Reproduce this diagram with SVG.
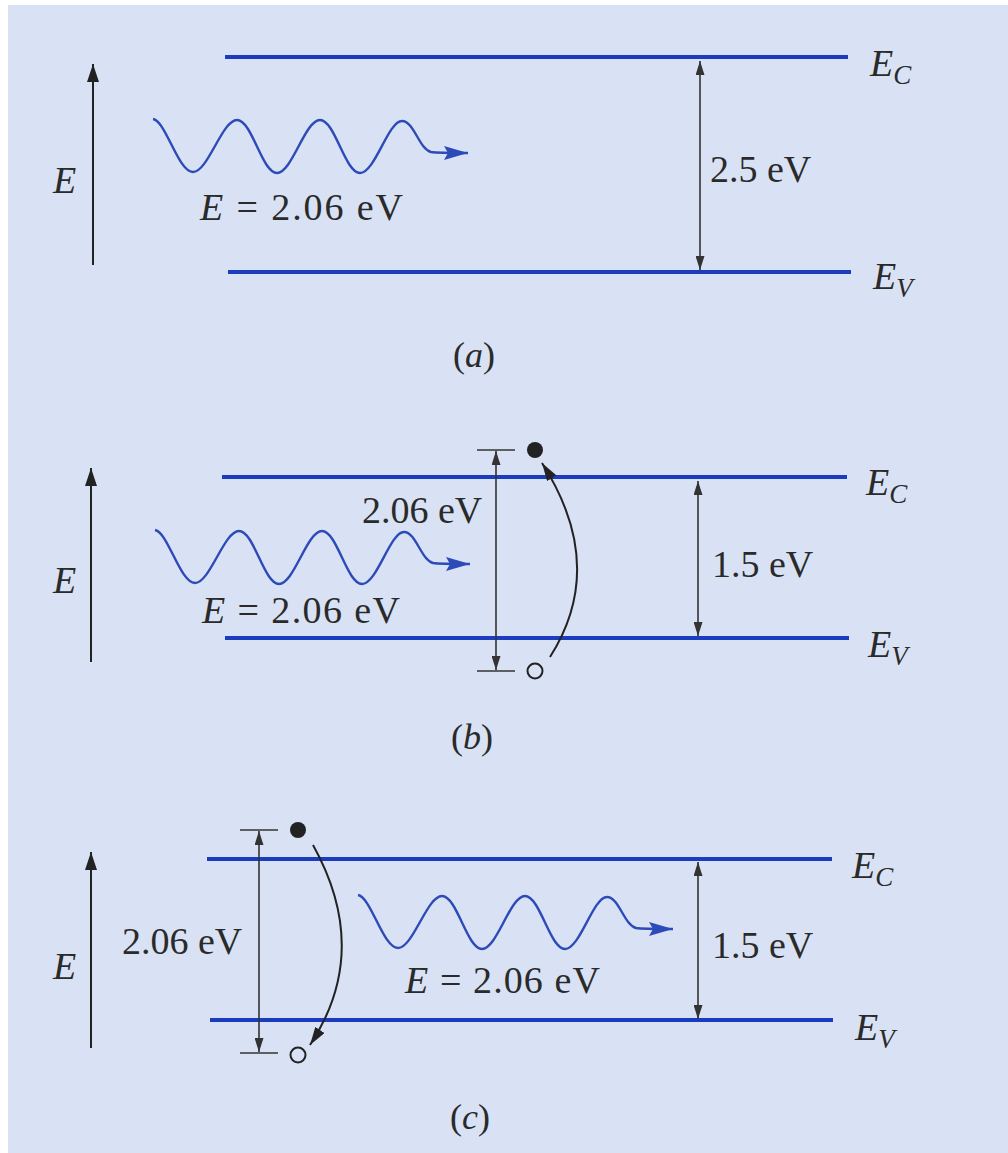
<svg xmlns="http://www.w3.org/2000/svg" xmlns:xlink="http://www.w3.org/1999/xlink" width="1008" height="1153" viewBox="0 0 1008 1153">
<style>
.bg{fill:#d9e2f4}
.band{stroke:#1c3cc0;stroke-width:4;fill:none}
.dim{stroke:#333;stroke-width:1.6;fill:none}
.axis{stroke:#222;stroke-width:2;fill:none}
.wave{stroke:#2d4bb8;stroke-width:2.4;fill:none}
.t{font-family:"Liberation Serif","Times New Roman",serif;font-size:38px;fill:#2a2a2a}
.i{font-style:italic}
.sub{font-size:27px}
.cap{font-size:36px}
</style>
<defs>
<marker id="ah" markerUnits="userSpaceOnUse" markerWidth="14" markerHeight="9" viewBox="0 0 14 9" refX="14" refY="4.5" orient="auto-start-reverse">
<path d="M0,0 L14,4.5 L0,9 z" fill="#333"/>
</marker>
<marker id="axh" markerUnits="userSpaceOnUse" markerWidth="18" markerHeight="12" viewBox="0 0 18 12" refX="18" refY="6" orient="auto">
<path d="M0,0 L18,6 L0,12 z" fill="#222"/>
</marker>
<marker id="ch" markerUnits="userSpaceOnUse" markerWidth="18" markerHeight="11" viewBox="0 0 18 11" refX="18" refY="5.5" orient="auto">
<path d="M0,0 L18,5.5 L0,11 z" fill="#222"/>
</marker>
<marker id="wh" markerUnits="userSpaceOnUse" markerWidth="24" markerHeight="14" viewBox="0 0 24 14" refX="24" refY="7" orient="auto">
<path d="M0,0 L24,7 L0,14 L4,7 z" fill="#2d4bb8"/>
</marker>
<path id="wave" class="wave" marker-end="url(#wh)" d="M0,0 C13,2 25,53 40,53 C55,53 69,1 84,1 C99,1 109,54 124,54 C139,54 152,1 167,1 C182,1 192,54 207,54 C222,54 235,2 249,2 C261,2 266,30 278,33 C284,34 292,34 315,34"/>
</defs>
<rect x="0" y="0" width="1008" height="1153" fill="#ffffff"/>
<rect class="bg" x="8" y="5" width="1000" height="1148"/>

<g id="panel-a">
<line class="band" x1="225" y1="57" x2="848" y2="57"/>
<line class="band" x1="228" y1="272" x2="851" y2="272"/>
<text class="t i" x="870" y="76">E<tspan class="sub" dy="8">C</tspan></text>
<text class="t i" x="873" y="289">E<tspan class="sub" dy="8">V</tspan></text>
<text class="t i" x="53" y="193">E</text>
<text class="t" x="200" y="220" textLength="203" lengthAdjust="spacing"><tspan class="i">E</tspan> = 2.06 eV</text>
<text class="t" x="710" y="182">2.5 eV</text>
<text class="t cap" x="453" y="367">(<tspan class="i">a</tspan>)</text>
</g>

<g id="panel-b">
<line class="band" x1="222" y1="477" x2="847" y2="477"/>
<line class="band" x1="225" y1="638" x2="849" y2="638"/>
<text class="t i" x="866" y="495">E<tspan class="sub" dy="8">C</tspan></text>
<text class="t i" x="868" y="657">E<tspan class="sub" dy="8">V</tspan></text>
<text class="t i" x="53" y="593">E</text>
<text class="t" x="202" y="623" textLength="198" lengthAdjust="spacing"><tspan class="i">E</tspan> = 2.06 eV</text>
<text class="t" x="362" y="523">2.06 eV</text>
<text class="t" x="712" y="577">1.5 eV</text>
<circle cx="535" cy="450" r="8" fill="#222"/>
<circle cx="535" cy="671" r="7.5" fill="none" stroke="#222" stroke-width="2"/>
<text class="t cap" x="451" y="749">(<tspan class="i">b</tspan>)</text>
</g>

<g id="panel-c">
<line class="band" x1="207" y1="859" x2="832" y2="859"/>
<line class="band" x1="210" y1="1020" x2="833" y2="1020"/>
<text class="t i" x="852" y="878">E<tspan class="sub" dy="8">C</tspan></text>
<text class="t i" x="855" y="1040">E<tspan class="sub" dy="8">V</tspan></text>
<text class="t i" x="53" y="979">E</text>
<text class="t" x="405" y="993" textLength="195" lengthAdjust="spacing"><tspan class="i">E</tspan> = 2.06 eV</text>
<text class="t" x="122" y="954">2.06 eV</text>
<text class="t" x="712" y="958">1.5 eV</text>
<circle cx="298" cy="830" r="8" fill="#222"/>
<circle cx="298" cy="1055" r="7.5" fill="none" stroke="#222" stroke-width="2"/>
<text class="t cap" x="450" y="1129">(<tspan class="i">c</tspan>)</text>
</g>

<g id="connectors">
<line class="axis" x1="93" y1="265" x2="93" y2="64" marker-end="url(#axh)"/>
<line class="axis" x1="91" y1="662" x2="91" y2="468" marker-end="url(#axh)"/>
<line class="axis" x1="91" y1="1048" x2="91" y2="852" marker-end="url(#axh)"/>
<use xlink:href="#wave" transform="translate(153,119)"/>
<use xlink:href="#wave" transform="translate(155,530)"/>
<use xlink:href="#wave" transform="translate(358,895)"/>
<line class="dim" x1="700" y1="61" x2="700" y2="270" marker-start="url(#ah)" marker-end="url(#ah)"/>
<line class="dim" x1="698" y1="481" x2="698" y2="636" marker-start="url(#ah)" marker-end="url(#ah)"/>
<line class="dim" x1="698" y1="862" x2="698" y2="1019" marker-start="url(#ah)" marker-end="url(#ah)"/>
<line class="dim" x1="477" y1="450" x2="515" y2="450"/>
<line class="dim" x1="477" y1="671" x2="515" y2="671"/>
<line class="dim" x1="496" y1="451" x2="496" y2="670" marker-start="url(#ah)" marker-end="url(#ah)"/>
<line class="dim" x1="240" y1="830" x2="278" y2="830"/>
<line class="dim" x1="240" y1="1053" x2="278" y2="1053"/>
<line class="dim" x1="259" y1="831" x2="259" y2="1052" marker-start="url(#ah)" marker-end="url(#ah)"/>
<path class="axis" d="M550,657 Q608,566 542,463" marker-end="url(#ch)"/>
<path class="axis" d="M313,845 Q372,951 310,1045" marker-end="url(#ch)"/>
</g>
</svg>
